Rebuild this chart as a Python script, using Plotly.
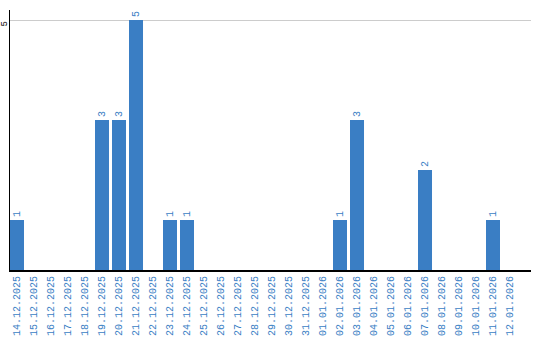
import plotly.graph_objects as go

dates = ["14.12.2025","15.12.2025","16.12.2025","17.12.2025","18.12.2025","19.12.2025",
         "20.12.2025","21.12.2025","22.12.2025","23.12.2025","24.12.2025","25.12.2025",
         "26.12.2025","27.12.2025","28.12.2025","29.12.2025","30.12.2025","31.12.2025",
         "01.01.2026","02.01.2026","03.01.2026","04.01.2026","05.01.2026","06.01.2026",
         "07.01.2026","08.01.2026","09.01.2026","10.01.2026","11.01.2026","12.01.2026"]
counts = [1,0,0,0,0,3,3,5,0,1,1,0,0,0,0,0,0,0,0,1,3,0,0,0,2,0,0,0,1,0]
y_ticks = [5]

blue = "#3a7ec4"
labels = [str(v) if v > 0 else "" for v in counts]

fig = go.Figure(go.Bar(
    x=dates, y=counts, marker_color=blue, marker_line_width=0,
    text=labels, textposition="outside", textangle=-90,
    textfont=dict(family="Liberation Mono", size=10, color=blue),
    cliponaxis=False, width=0.824,
))

fig.update_layout(
    width=540, height=340, margin=dict(l=10, r=9, t=10, b=70, autoexpand=False),
    plot_bgcolor="white", paper_bgcolor="white", showlegend=False,
    bargap=0.176,
)
fig.update_xaxes(
    type="category", categoryorder="array", categoryarray=dates,
    range=[-0.412, 30.235], tickangle=-90, automargin=False,
    tickfont=dict(family="Liberation Mono", size=10, color=blue),
    showline=True, linecolor="black", linewidth=2, showgrid=False,
    ticks="", ticklen=0,
)
fig.update_yaxes(
    range=[0, 5.2], tickvals=y_ticks, tickangle=-90, automargin=False,
    tickfont=dict(family="Liberation Sans", size=9, color="black"),
    ticklabelshift=5, ticklabelstandoff=-2,
    showline=True, linecolor="black", linewidth=1,
    showgrid=True, gridcolor="#cccccc", gridwidth=1, zeroline=False,
    ticks="", ticklen=0,
)
fig.write_html("out.html")
